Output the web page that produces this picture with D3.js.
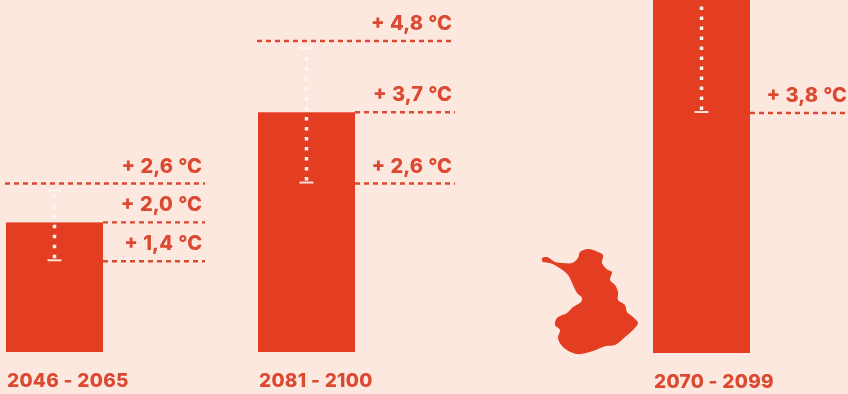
<!DOCTYPE html>
<html>
<head>
<meta charset="utf-8">
<script src="https://cdn.jsdelivr.net/npm/d3@7"></script>
<style>
  html, body { margin: 0; padding: 0; background: #fce8df; overflow: hidden; }
  svg { display: block; }
  text { font-family: Inter, Lato, sans-serif; font-weight: 800; fill: #dc4a31; }
</style>
</head>
<body>
<script>
// Values
const periods = ["2046 - 2065", "2081 - 2100", "2070 - 2099"];
const lows = [1.4, 2.6, 3.8];
const mids = [2.0, 3.7, 5.8];   // third one runs off the top of the picture, estimated
const highs = [2.6, 4.8, null]; // third one is not visible

// Finland outline
const finland = [[542,258],[547,257],[555,262],[563,263],[572,263],[578,258],[580,252],[588,249],[598,252],[603,255],[602,263],[608,270],[612,272],[610,280],[615,285],[618,292],[618,300],[625,305],[627,312],[633,317],[638,323],[633,330],[625,337],[615,345],[606,346],[593,351],[577,354],[563,347],[558,338],[560,330],[555,325],[557,318],[567,313],[573,307],[581,302],[582,298],[577,293],[573,285],[568,275],[561,269],[550,263],[543,262]];

const width = 848;
const height = 394;
const red = "#e33d22";
const lineRed = "#dc4a31";
const pale = "#fbe3d6";

const svg = d3.select("body").append("svg")
              .attr("width", width)
              .attr("height", height);

// picture is soft, take the edge off
svg.append("defs").append("filter")
   .attr("id", "soft")
   .append("feGaussianBlur")
   .attr("stdDeviation", 0.55);

svg.append("rect")
   .attr("width", width)
   .attr("height", height)
   .attr("fill", "#fce8df");

const g = svg.append("g").attr("filter", "url(#soft)");

// bars are not evenly spaced in the original
const x = d3.scaleOrdinal().domain(periods).range([6, 258, 653]);
const barWidth = 97;
const lineEnd = d3.scaleOrdinal().domain(periods).range([203, 453, 848]);

// the third panel has a slightly different scale
const yLeft = d3.scaleLinear().domain([0, 4.8]).range([352, 41]);
const yRight = d3.scaleLinear().domain([0, 3.8]).range([353, 113]);
const yFor = i => i === 2 ? yRight : yLeft;

const rows = periods.map((p, i) => ({ period: p, low: lows[i], mid: mids[i], high: highs[i], y: yFor(i) }));

g.selectAll(".bar")
 .data(rows)
 .join("rect")
 .attr("class", "bar")
 .attr("x", d => x(d.period))
 .attr("y", d => d.y(d.mid))
 .attr("width", barWidth)
 .attr("height", d => d.y(0) - d.y(d.mid))
 .attr("fill", red);

g.append("path")
 .datum(finland)
 .attr("d", d3.line().curve(d3.curveCatmullRomClosed))
 .attr("fill", red);

// dashed reference lines with their labels
const marks = rows.flatMap(d => {
    const out = [{ d, value: d.low, full: false }, { d, value: d.mid, full: false }];
    if (d.high !== null) out.push({ d, value: d.high, full: true });
    return out;
}).filter(m => m.d.y(m.value) > 0);

g.selectAll(".ref")
 .data(marks)
 .join("line")
 .attr("class", "ref")
 .attr("x1", m => m.full ? x(m.d.period) - 1 : x(m.d.period) + barWidth)
 .attr("x2", m => lineEnd(m.d.period) + 2)
 .attr("y1", m => m.d.y(m.value))
 .attr("y2", m => m.d.y(m.value))
 .attr("stroke", lineRed)
 .attr("stroke-width", 2.4)
 .attr("stroke-dasharray", "5 4");

const format = v => "+ " + d3.format(".1f")(v).replace(".", ",") + " °C";

g.selectAll(".temp")
 .data(marks)
 .join("text")
 .attr("class", "temp")
 .attr("x", m => lineEnd(m.d.period) - 1)
 .attr("y", m => m.d.y(m.value) - 11)
 .attr("text-anchor", "end")
 .attr("font-size", 20)
 .attr("word-spacing", 1)
 .text(m => format(m.value));

// range whiskers, dotted white
const whiskerTop = d => d.high !== null ? d.y(d.high) + 7 : 0;
const cx = d => x(d.period) + barWidth / 2;

g.selectAll(".whisker")
 .data(rows)
 .join("line")
 .attr("class", "whisker")
 .attr("x1", cx)
 .attr("x2", cx)
 .attr("y1", d => d.y(d.low) - 3)
 .attr("y2", whiskerTop)
 .attr("stroke", "#fff6ef")
 .attr("stroke-width", 3.5)
 .attr("stroke-dasharray", "3.5 6.5");

g.selectAll(".capLow")
 .data(rows)
 .join("line")
 .attr("class", "capLow")
 .attr("x1", d => cx(d) - 7)
 .attr("x2", d => cx(d) + 7)
 .attr("y1", d => d.y(d.low) - 1)
 .attr("y2", d => d.y(d.low) - 1)
 .attr("stroke", pale)
 .attr("stroke-width", 2);

g.selectAll(".capHigh")
 .data(rows.filter(d => d.high !== null))
 .join("line")
 .attr("class", "capHigh")
 .attr("x1", d => cx(d) - 7)
 .attr("x2", d => cx(d) + 7)
 .attr("y1", d => d.y(d.high) + 7)
 .attr("y2", d => d.y(d.high) + 7)
 .attr("stroke", "#fff6ef")
 .attr("stroke-width", 2);

g.selectAll(".period")
 .data(rows)
 .join("text")
 .attr("class", "period")
 .attr("x", d => x(d.period) + 1)
 .attr("y", d => d.y(0) + 35)
 .attr("font-size", 19)
 .attr("letter-spacing", 0.3)
 .text(d => d.period);
</script>
</body>
</html>
